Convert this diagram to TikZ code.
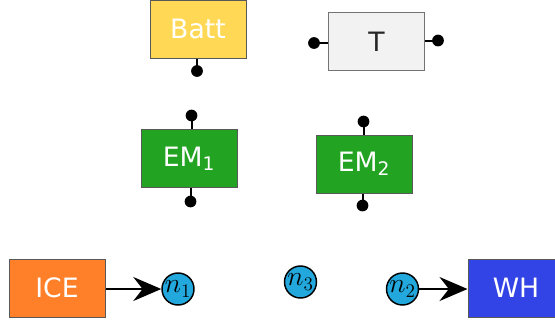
\documentclass[tikz,border=0pt]{standalone}
\usepackage{fontspec}
\setmainfont{DejaVu Sans}
\usetikzlibrary{arrows.meta}
\usepackage{xcolor}
\definecolor{cbatt}{HTML}{FFD955}
\definecolor{cgrey}{HTML}{F2F2F2}
\definecolor{cgreen}{HTML}{22A322}
\definecolor{corange}{HTML}{FF8028}
\definecolor{cblue}{HTML}{3344E6}
\definecolor{cnode}{HTML}{22A8DC}

\tikzset{
  unit/.style={draw=black!65, line width=0.75pt, minimum width=72pt,
               minimum height=43.5pt, inner sep=0pt,
               font=\fontsize{20}{24}\selectfont, text=white},
  hub/.style={circle, draw=black, fill=cnode, line width=1.1pt,
              minimum size=24pt, inner sep=0pt,
              font=\fontsize{21}{24}\selectfont},
  pinline/.style={line width=1.5pt},
  flow/.style={line width=1.4pt, -{Stealth[length=21pt,width=18pt,inset=7pt]}}
}

\begin{document}
\begin{tikzpicture}[x=0.75pt, y=-0.75pt]
  \useasboundingbox (0,0) rectangle (555,322);
  \clip (0,0) rectangle (555,322);

  % units
  \node[unit, fill=cbatt] (batt) at (198,29) {Batt};
  \node[unit, fill=cgrey, draw=black!55, text=black!85] (trans) at (376.5,41.5) {T};
  \node[unit, fill=cgreen] (em1) at (189,158.5) {EM\textsubscript{1}};
  \node[unit, fill=cgreen] (em2) at (364,164) {EM\textsubscript{2}};
  \node[unit, fill=corange] (ice) at (57,288) {ICE};
  \node[unit, fill=cblue] (wh) at (516,288) {WH};

  % pins
  \coordinate (battp) at (197,71);
  \coordinate (transl) at (314,43);
  \coordinate (transr) at (438,40.5);
  \coordinate (em1t) at (191.5,115.5);
  \coordinate (em1b) at (190.5,201.5);
  \coordinate (em2t) at (363.5,121.5);
  \coordinate (em2b) at (362.5,205.5);
  \draw[pinline] (batt.south -| battp) -- (battp);
  \draw[pinline] (trans.west |- transl) -- (transl);
  \draw[pinline] (trans.east |- transr) -- (transr);
  \draw[pinline] (em1.north -| em1t) -- (em1t);
  \draw[pinline] (em1.south -| em1b) -- (em1b);
  \draw[pinline] (em2.north -| em2t) -- (em2t);
  \draw[pinline] (em2.south -| em2b) -- (em2b);
  \foreach \p in {battp,transl,transr,em1t,em1b,em2t,em2b}
    \fill (\p) circle (4.4pt);

  % hubs
  \node[hub] (n1) at (178,289) {$n_1$};
  \node[hub] (n3) at (300.5,282) {$n_3$};
  \node[hub] (n2) at (402.5,289) {$n_2$};

  \draw[flow] (ice.east |- n1) -- (n1);
  \draw[flow] (n2) -- (wh.west |- n2);
\end{tikzpicture}
\end{document}
